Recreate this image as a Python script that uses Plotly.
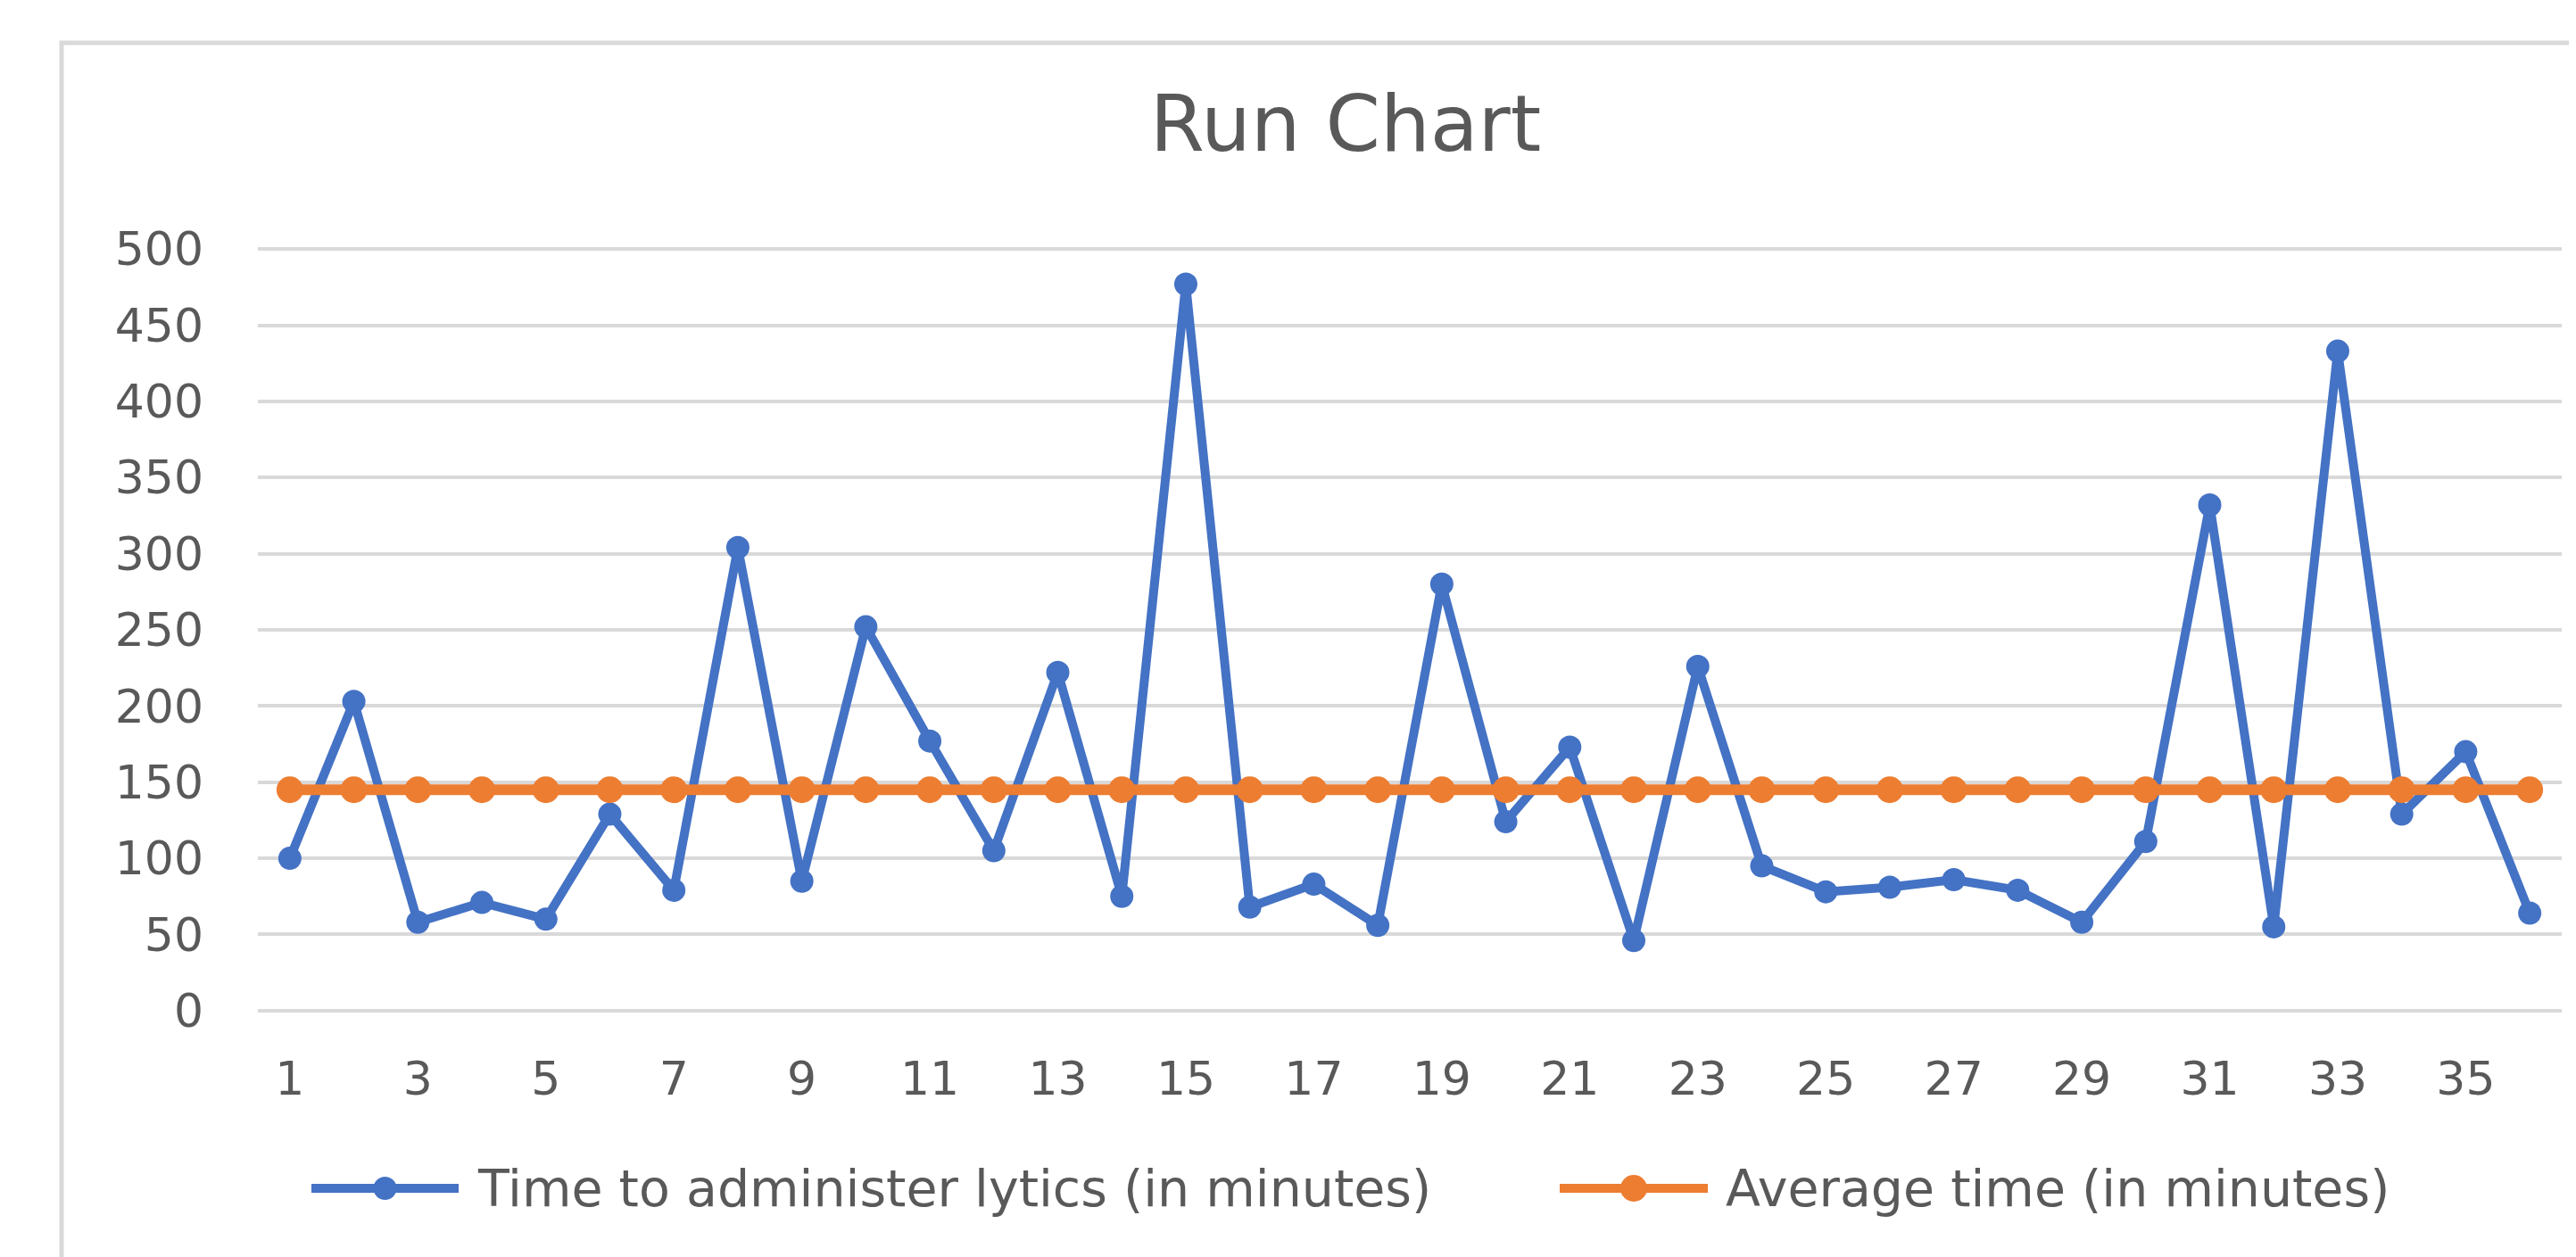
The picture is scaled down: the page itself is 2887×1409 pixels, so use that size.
import plotly.graph_objects as go

# ---- data ----
observations = list(range(1, 37))
time_to_lytics = [100, 203, 58, 71, 60, 129, 79, 304, 85, 252, 177, 105, 222, 75, 477, 68, 83, 56,
                  280, 124, 173, 46, 226, 95, 78, 81, 86, 79, 58, 111, 332, 55, 433, 129, 170, 64]
average_time = [145, 145, 145, 145, 145, 145, 145, 145, 145, 145, 145, 145, 145, 145, 145, 145, 145, 145,
                145, 145, 145, 145, 145, 145, 145, 145, 145, 145, 145, 145, 145, 145, 145, 145, 145, 145]
x_tick_labels = [1, 3, 5, 7, 9, 11, 13, 15, 17, 19, 21, 23, 25, 27, 29, 31, 33, 35]
y_tick_labels = [0, 50, 100, 150, 200, 250, 300, 350, 400, 450, 500]
series_names = ["Time to administer lytics (in minutes)", "Average time (in minutes)"]
series_colors = ["#4472C4", "#ED7D31"]

# ---- layout geometry (pixels) ----
W, H = 2887, 1409
L, R, T, B = 281, 2863, 270, 1126
TEXT = "#595959"
GRID = "#D9D9D9"
FONT = "DejaVu Sans"


def fx(px):
    return (px - L) / (R - L)


def fy(py):
    return (B - py) / (B - T)


fig = go.Figure()
fig.add_trace(go.Scatter(
    x=observations, y=time_to_lytics, mode="lines+markers", name=series_names[0],
    line=dict(color=series_colors[0], width=10),
    marker=dict(color=series_colors[0], size=26, symbol="circle"),
    showlegend=False, cliponaxis=False,
))
fig.add_trace(go.Scatter(
    x=observations, y=average_time, mode="lines+markers", name=series_names[1],
    line=dict(color=series_colors[1], width=12),
    marker=dict(color=series_colors[1], size=30, symbol="circle"),
    showlegend=False, cliponaxis=False,
))

shapes = [
    # chart-area border (only top and left visible in the crop)
    dict(type="rect", xref="paper", yref="paper", x0=fx(61), x1=fx(3100), y0=fy(1600), y1=fy(40),
         line=dict(color=GRID, width=5), fillcolor="rgba(0,0,0,0)", layer="below"),
]
annotations = []

# custom legend (long line symbols like the original)
legend_items = [(341, 506, 525), (1740, 1906, 1924)]
legend_y = 1324
for (lx0, lx1, tx), name, color, msize in zip(legend_items, series_names, series_colors, [26, 30]):
    shapes.append(dict(type="line", xref="paper", yref="paper", x0=fx(lx0), x1=fx(lx1),
                       y0=fy(legend_y), y1=fy(legend_y), line=dict(color=color, width=10)))
    cx = fx((lx0 + lx1) / 2)
    cy = fy(legend_y)
    shapes.append(dict(type="circle", xref="paper", yref="paper", xsizemode="pixel", ysizemode="pixel",
                       xanchor=cx, yanchor=cy, x0=-msize / 2, x1=msize / 2, y0=-msize / 2, y1=msize / 2,
                       fillcolor=color, line=dict(color=color, width=0)))
    annotations.append(dict(xref="paper", yref="paper", x=fx(tx), y=fy(legend_y), xanchor="left",
                            yanchor="middle", text=name, showarrow=False,
                            font=dict(family=FONT, size=57, color=TEXT)))

fig.update_layout(
    width=W, height=H,
    margin=dict(l=L, r=W - R, t=T, b=H - B, autoexpand=False),
    paper_bgcolor="white", plot_bgcolor="white",
    title=dict(text="Run Chart", x=1500 / W, xanchor="center", y=1 - 130 / H, yanchor="middle",
               xref="container", yref="container",
               font=dict(family=FONT, size=88, color=TEXT)),
    showlegend=False,
    shapes=shapes,
    annotations=annotations,
    xaxis=dict(range=[0.5, 36.5], tickmode="array", tickvals=x_tick_labels,
               ticktext=[str(v) for v in x_tick_labels], showgrid=False, zeroline=False,
               showline=False, ticks="", ticklabelstandoff=40,
               tickfont=dict(family=FONT, size=52, color=TEXT)),
    yaxis=dict(range=[-0.7, 500.7], tickmode="array", tickvals=y_tick_labels,
               ticktext=[str(v) for v in y_tick_labels], showgrid=True, gridcolor=GRID, gridwidth=4,
               zeroline=False, showline=False, ticks="", ticklabelstandoff=60,
               tickfont=dict(family=FONT, size=52, color=TEXT)),
)

fig.write_html("out.html")
